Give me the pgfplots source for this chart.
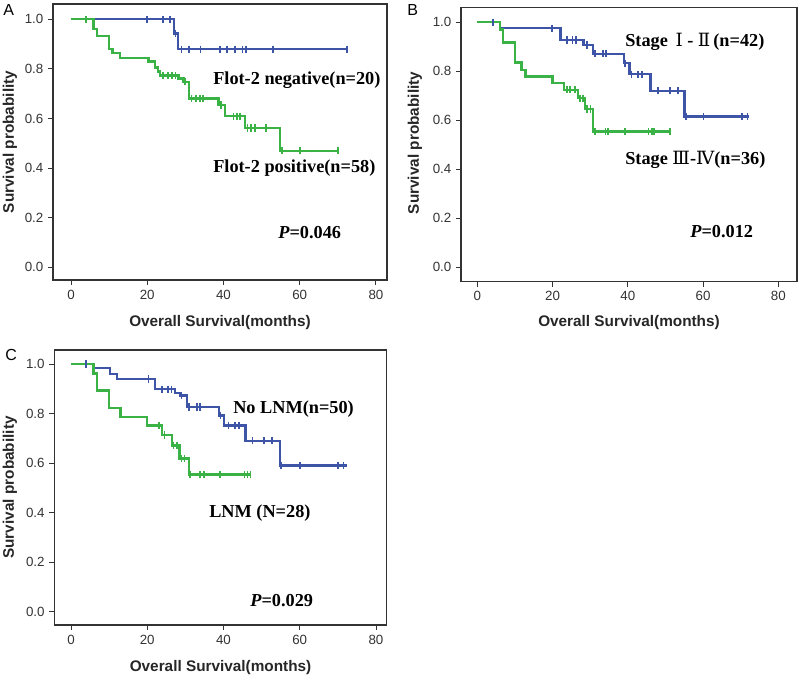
\documentclass[border=0pt]{standalone}
\usepackage{fontspec}
\setmainfont{Liberation Serif}
\newfontfamily\arial{Liberation Sans}
\newfontfamily\rnfont{DejaVu Serif}
\usepackage{pgfplots}
\pgfplotsset{compat=1.18}
\definecolor{kmblue}{RGB}{62,84,166}
\definecolor{kmgreen}{RGB}{58,178,70}
\pgfplotsset{km/.style={
  scale only axis,
  axis line style={line width=1.1pt, black!80},
  tick align=outside, xtick pos=bottom, ytick pos=left,
  major tick length=3.75pt,
  tick style={line width=0.7pt, black!80},
  xtick={0,20,40,60,80}, xticklabels={0,20,40,60,80},
  ytick={0,0.2,0.4,0.6,0.8,1.0}, yticklabels={0.0,0.2,0.4,0.6,0.8,1.0},
  ticklabel style={font=\arial\fontsize{10}{12}\selectfont, text=black!80},
  anchor=south west,
},
bline/.style={const plot, kmblue, line width=1.8pt},
gline/.style={const plot, kmgreen, line width=1.8pt},
bmark/.style={only marks, mark=|, mark size=2.7pt, kmblue, mark options={line width=1.3pt}},
gmark/.style={only marks, mark=|, mark size=2.7pt, kmgreen, mark options={line width=1.3pt}},
}
\begin{document}
\begin{tikzpicture}
\path[use as bounding box] (0,0) rectangle (600pt,510pt);
% ---------------- Panel A
\begin{axis}[km, at={(39.75pt,300pt)}, width=250.5pt, height=207pt,
  xmin=-4.72, xmax=82.9, ymin=-0.0512, ymax=1.0617]
\addplot[bline] coordinates {(0,1)(27,0.943)(28,0.879)(72.4,0.879)};
\addplot[gline] coordinates {(0,1)(5.9,0.962)(6.9,0.933)(10,0.879)(10.9,0.865)(12.9,0.843)(20.3,0.829)(22,0.806)(22.9,0.789)(23.4,0.773)(28.2,0.762)(29.5,0.748)(30.9,0.681)(38.7,0.654)(40.4,0.609)(45.7,0.562)(54.9,0.47)(70,0.47)};
\addplot[bmark] coordinates {(20,1)(24.2,1)(26,1)(27.4,0.943)(29,0.879)(31,0.879)(34,0.879)(39,0.879)(41,0.879)(43,0.879)(45,0.879)(46,0.879)(53,0.879)(72.4,0.879)};
\addplot[gmark] coordinates {(4,1)(24.2,0.773)(25.5,0.773)(26.5,0.773)(27.4,0.773)(29.9,0.748)(31.6,0.681)(32.8,0.681)(33.9,0.681)(34.7,0.681)(39.3,0.654)(42.6,0.609)(43.5,0.609)(44.3,0.609)(46.3,0.562)(47.3,0.562)(48.2,0.562)(51.2,0.562)(55.3,0.47)(60.1,0.47)(70,0.47)};
\end{axis}
% ---------------- Panel B
\begin{axis}[km, at={(345.75pt,298.7pt)}, width=252pt, height=205.8pt,
  xmin=-4.33, xmax=84.97, ymin=-0.0588, ymax=1.061]
\addplot[bline] coordinates {(0,1)(6,0.976)(22.1,0.928)(28.2,0.907)(30.8,0.871)(39,0.833)(40.5,0.788)(46,0.72)(55.1,0.616)(72.2,0.616)};
\addplot[gline] coordinates {(0,1)(6,0.971)(6.9,0.917)(10,0.835)(11.8,0.805)(12.8,0.778)(20,0.751)(23.1,0.724)(26.8,0.69)(28.6,0.646)(30.8,0.554)(51.5,0.554)};
\addplot[gmark] coordinates {(23.8,0.724)(24.6,0.724)(26,0.724)(27.3,0.69)(28,0.69)(29.2,0.646)(30.1,0.646)(31.3,0.554)(34.1,0.554)(34.8,0.554)(39.3,0.554)(45.5,0.554)(46.4,0.554)(46.9,0.554)(51.3,0.554)};
\addplot[bmark] coordinates {(4.2,1)(19.9,0.976)(23.9,0.928)(25.3,0.928)(26.3,0.928)(29.1,0.907)(31.3,0.871)(33.5,0.871)(34.2,0.871)(39.3,0.833)(41,0.788)(42.8,0.788)(43.7,0.788)(48.1,0.72)(51.2,0.72)(53.4,0.72)(55.4,0.616)(60.1,0.616)(70.3,0.616)(71.8,0.616)};
\end{axis}
% ---------------- Panel C
\begin{axis}[km, at={(40.7pt,41.25pt)}, width=249.3pt, height=206.25pt,
  xmin=-4.38, xmax=82.8, ymin=-0.0537, ymax=1.0565]
\addplot[bline] coordinates {(0,1)(5.9,0.983)(10.2,0.96)(12,0.939)(22,0.898)(27.3,0.884)(28.6,0.872)(30.5,0.826)(38.8,0.792)(40.1,0.752)(45.8,0.69)(54.8,0.59)(72.3,0.59)};
\addplot[gline] coordinates {(0,1)(5.9,0.962)(6.9,0.893)(10,0.823)(13,0.787)(20,0.752)(23.8,0.713)(26.5,0.671)(28.5,0.619)(30.9,0.554)(47.3,0.554)};
\addplot[gmark] coordinates {(23,0.752)(24.5,0.713)(26.9,0.671)(27.8,0.671)(29,0.619)(29.8,0.619)(31.2,0.554)(33.8,0.554)(34.8,0.554)(39.1,0.554)(45.5,0.554)(46.3,0.554)(47.1,0.554)};
\addplot[bmark] coordinates {(3.9,1)(20.3,0.939)(23.8,0.898)(25.5,0.898)(26.4,0.898)(29,0.872)(31,0.826)(33,0.826)(33.8,0.826)(39.2,0.792)(41.3,0.752)(43,0.752)(44,0.752)(47.6,0.69)(50.7,0.69)(52.8,0.69)(55.1,0.59)(60.1,0.59)(70.1,0.59)(71.5,0.59)};
\end{axis}
% ---------------- Texts
\tikzset{ann/.style={anchor=west, inner sep=0pt, font=\bfseries\fontsize{13.7}{16}\selectfont},
         lab/.style={inner sep=0pt, font=\arial\bfseries\fontsize{11.5}{13}\selectfont, text=black!85},
         pan/.style={anchor=west, inner sep=0pt, font=\arial\fontsize{12}{14}\selectfont}}
% A
\node[pan] at (2.25pt,502.5pt) {A};
\node[ann] at (159.75pt,450pt) {Flot-2 negative(n=20)};
\node[ann] at (159.75pt,384pt) {Flot-2 positive(n=58)};
\node[ann] at (208.5pt,335.25pt) {\textit{P}=0.046};
\node[lab, rotate=90] at (7.5pt,403.5pt) {Survival probability};
\node[lab] at (165pt,267.75pt) {Overall Survival(months)};
% B
\node[pan] at (305.25pt,502.5pt) {B};
\node[ann] at (468.75pt,478.7pt) {Stage\ \,{\rnfont\mdseries Ⅰ} - {\rnfont\mdseries Ⅱ}\,(n=42)};
\node[ann] at (468.75pt,390pt) {Stage {\rnfont\mdseries Ⅲ}-{\rnfont\mdseries Ⅳ}(n=36)};
\node[ann] at (517.5pt,336.2pt) {\textit{P}=0.012};
\node[lab, rotate=90] at (311.25pt,402.75pt) {Survival probability};
\node[lab] at (471.75pt,267.75pt) {Overall Survival(months)};
% C
\node[pan] at (3.75pt,243.75pt) {C};
\node[ann] at (174.75pt,203pt) {No LNM(n=50)};
\node[ann] at (156.75pt,125.5pt) {LNM (N=28)};
\node[ann] at (187.5pt,59.5pt) {\textit{P}=0.029};
\node[lab, rotate=90] at (7.5pt,144.4pt) {Survival probability};
\node[lab] at (165.4pt,9pt) {Overall Survival(months)};
\end{tikzpicture}
\end{document}
